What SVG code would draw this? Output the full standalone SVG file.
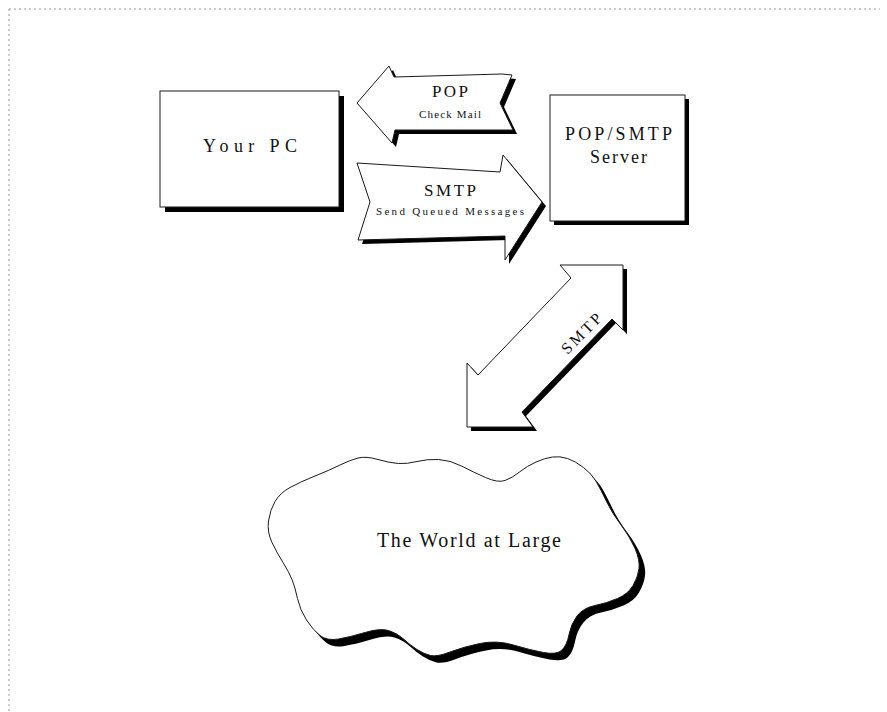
<svg xmlns="http://www.w3.org/2000/svg" xmlns:xlink="http://www.w3.org/1999/xlink" width="887" height="712" viewBox="0 0 887 712">
  <style>
    .page { fill: none; stroke: #9a9a9a; stroke-width: 1; stroke-dasharray: 2 3; }
    .face { fill: #ffffff; stroke: #1a1a1a; stroke-width: 1; stroke-linejoin: miter; }
    .shadow { fill: #000000; stroke: none; }
    .lbl { font-family: "Liberation Serif", "Times New Roman", serif; fill: #111111; }
    .big { font-size: 18px; }
    .mid { font-size: 17px; }
    .small { font-size: 11px; }
  </style>
  <defs>
    <rect id="pcShape" x="160" y="91" width="179" height="116"/>
    <rect id="serverShape" x="550" y="95" width="135" height="126"/>
    <polygon id="popShape" points="357,103 389,66 394,77 502,74 512,75 500,103 513,130 395,130 392,143"/>
    <polygon id="smtpShape" points="357,163 500,172 503,155 542,202 505,260 505,236 358,240 370,202"/>
    <polygon id="relayShape" points="560,265 623,265 623,330 612,319 522,412 533,427 467,427 467,363 478,375 571,278"/>
    <path id="cloudShape" d="M272,542.5 Q267,532 268.5,521 Q270,510 275,501.5 Q280,493 290,487.5 Q300,482 315,476 Q330,470 340,465 Q350,460 358,458 Q366,456 378,459.5 Q390,463 398.5,463.5 Q407,464 417,461.5 Q427,459 438.5,459.5 Q450,460 461.5,466 Q473,472 485.5,477.5 Q498,483 505,480.5 Q512,478 519.5,472 Q527,466 536,462 Q545,458 552.5,457 Q560,456 567.5,458.5 Q575,461 583.5,467.5 Q592,474 596.5,482 Q601,490 606.5,501.5 Q612,513 621,525 Q630,537 635,548.5 Q640,560 639,568.5 Q638,577 633,585.5 Q628,594 617.5,598.5 Q607,603 595,605.5 Q583,608 577,616 Q571,624 569,634.5 Q567,645 562,650 Q557,655 543.5,652.5 Q530,650 513.5,645 Q497,640 480,643.5 Q463,647 450,652 Q437,657 430.5,655.5 Q424,654 417,649.5 Q410,645 403.5,639 Q397,633 388.5,630.5 Q380,628 365,632.5 Q350,637 338.5,639 Q327,641 320,635.5 Q313,630 306.5,620 Q300,610 297.5,598.5 Q295,587 292,579.5 Q289,572 283,562.5 Q277,553 272,542.5 Z"/>
  </defs>

  <!-- page frame -->
  <g id="page-frame">
    <line class="page" x1="9" y1="9" x2="880" y2="9"/>
    <line class="page" x1="9" y1="9" x2="9" y2="712"/>
  </g>

  <!-- nodes -->
  <g id="your-pc">
    <use xlink:href="#pcShape" class="shadow" transform="translate(5,5)"/>
    <use xlink:href="#pcShape" class="face"/>
    <text class="lbl big" x="203" y="152" textLength="94" lengthAdjust="spacing">Your PC</text>
  </g>

  <g id="mail-server">
    <use xlink:href="#serverShape" class="shadow" transform="translate(4,4)"/>
    <use xlink:href="#serverShape" class="face"/>
    <text class="lbl big" x="565" y="140" textLength="107" lengthAdjust="spacing">POP/SMTP</text>
    <text class="lbl big" x="590" y="163" textLength="57" lengthAdjust="spacing">Server</text>
  </g>

  <g id="world">
    <use xlink:href="#cloudShape" class="shadow" transform="translate(6,7)"/>
    <use xlink:href="#cloudShape" class="face"/>
    <text class="lbl" font-size="20" x="377" y="547" textLength="184" lengthAdjust="spacing">The World at Large</text>
  </g>

  <!-- connectors: block arrows -->
  <g id="connectors">
    <g id="pop-arrow">
      <use xlink:href="#popShape" class="shadow" transform="translate(4,4)"/>
      <use xlink:href="#popShape" class="face"/>
      <text class="lbl mid" x="432" y="97" textLength="36" lengthAdjust="spacing">POP</text>
      <text class="lbl small" x="419" y="118" textLength="62" lengthAdjust="spacing">Check Mail</text>
    </g>
    <g id="smtp-arrow">
      <use xlink:href="#smtpShape" class="shadow" transform="translate(4,4)"/>
      <use xlink:href="#smtpShape" class="face"/>
      <text class="lbl mid" x="424" y="196" textLength="52" lengthAdjust="spacing">SMTP</text>
      <text class="lbl small" x="376" y="215" textLength="148" lengthAdjust="spacing">Send Queued Messages</text>
    </g>
    <g id="relay-arrow">
      <use xlink:href="#relayShape" class="shadow" transform="translate(4,4)"/>
      <use xlink:href="#relayShape" class="face"/>
      <g transform="translate(581,333) rotate(-45)">
        <text class="lbl" font-size="16" x="-25" y="6" textLength="50" lengthAdjust="spacing">SMTP</text>
      </g>
    </g>
  </g>
</svg>
